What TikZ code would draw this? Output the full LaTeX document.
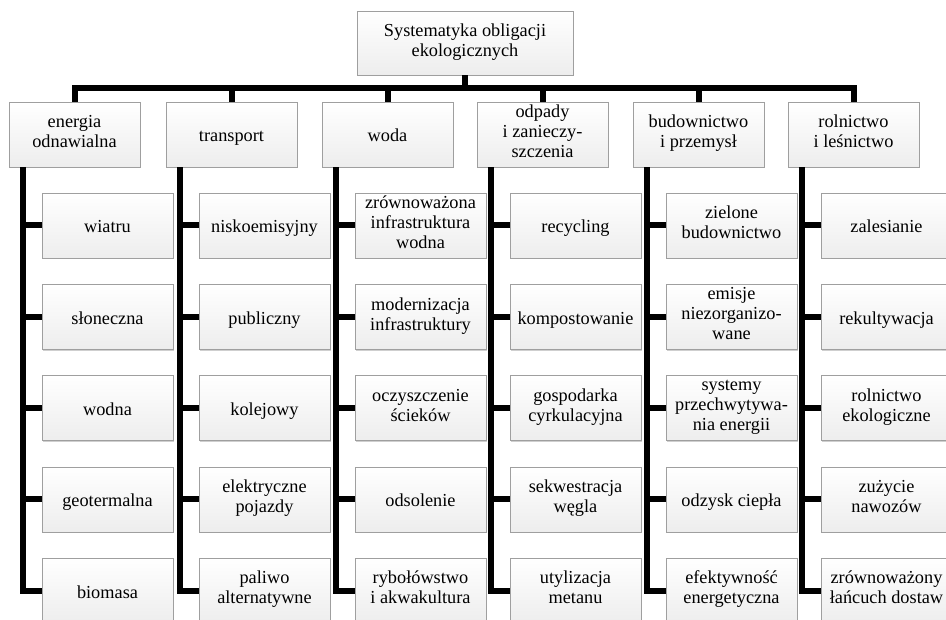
\documentclass[tikz,border=0pt]{standalone}
\usepackage{fontspec}
\setmainfont{Liberation Serif}
\usetikzlibrary{shadows}

\begin{document}
\begin{tikzpicture}
        [x=1pt, y=-1pt, box/.style={draw=gray!75, top color=white, bottom color=gray!14, drop shadow={shadow xshift=1.3pt, shadow yshift=-1.3pt, fill=gray!75}, align=center, inner sep=0, minimum width=131pt, minimum height=65pt, font=\fontsize{18.3}{20}\selectfont, execute at begin node=\rule{0pt}{21pt}, execute at end node=\rule[-6pt]{0pt}{6pt}}, link/.style={line width=6pt, black}]

        \clip (0, 0) rectangle (946, 620);

        \node[box, minimum width=216pt, minimum height=64pt] (root) at (465, 43) {Systematyka obligacji\\ekologicznych};

        \node[box] (c1) at (74.5, 134.5) {energia\\odnawialna};
        \node[box] (c2) at (231.5, 134.5) {transport};
        \node[box] (c3) at (387.5, 134.5) {woda};
        \node[box] (c4) at (542.5, 134.5) {odpady\\i zanieczy-\\szczenia};
        \node[box] (c5) at (698.5, 134.5) {budownictwo\\i przemysł};
        \node[box] (c6) at (853.5, 134.5) {rolnictwo\\i leśnictwo};

        \node[box] (c1r1) at (107.5, 225.5) {wiatru};
        \node[box] (c1r2) at (107.5, 316.75) {słoneczna};
        \node[box] (c1r3) at (107.5, 408) {wodna};
        \node[box] (c1r4) at (107.5, 499.25) {geotermalna};
        \node[box] (c1r5) at (107.5, 590.5) {biomasa};

        \node[box] (c2r1) at (264.5, 225.5) {niskoemisyjny};
        \node[box] (c2r2) at (264.5, 316.75) {publiczny};
        \node[box] (c2r3) at (264.5, 408) {kolejowy};
        \node[box] (c2r4) at (264.5, 499.25) {elektryczne\\pojazdy};
        \node[box] (c2r5) at (264.5, 590.5) {paliwo\\alternatywne};

        \node[box] (c3r1) at (420.5, 225.5) {zrównoważona\\infrastruktura\\wodna};
        \node[box] (c3r2) at (420.5, 316.75) {modernizacja\\infrastruktury};
        \node[box] (c3r3) at (420.5, 408) {oczyszczenie\\ścieków};
        \node[box] (c3r4) at (420.5, 499.25) {odsolenie};
        \node[box] (c3r5) at (420.5, 590.5) {rybołówstwo\\i akwakultura};

        \node[box] (c4r1) at (575.5, 225.5) {recycling};
        \node[box] (c4r2) at (575.5, 316.75) {kompostowanie};
        \node[box] (c4r3) at (575.5, 408) {gospodarka\\cyrkulacyjna};
        \node[box] (c4r4) at (575.5, 499.25) {sekwestracja\\węgla};
        \node[box] (c4r5) at (575.5, 590.5) {utylizacja\\metanu};

        \node[box] (c5r1) at (731.5, 225.5) {zielone\\budownictwo};
        \node[box] (c5r2) at (731.5, 316.75) {emisje\\niezorganizo-\\wane};
        \node[box] (c5r3) at (731.5, 408) {systemy\\przechwytywa-\\nia energii};
        \node[box] (c5r4) at (731.5, 499.25) {odzysk ciepła};
        \node[box] (c5r5) at (731.5, 590.5) {efektywność\\energetyczna};

        \node[box] (c6r1) at (886.5, 225.5) {zalesianie};
        \node[box] (c6r2) at (886.5, 316.75) {rekultywacja};
        \node[box] (c6r3) at (886.5, 408) {rolnictwo\\ekologiczne};
        \node[box] (c6r4) at (886.5, 499.25) {zużycie\\nawozów};
        \node[box] (c6r5) at (886.5, 590.5) {zrównoważony\\łańcuch dostaw};

        \draw[link] (root.south) -- ++(0, 13) -| (c1.north);
        \draw[link] (root.south) -- ++(0, 13) -| (c2.north);
        \draw[link] (root.south) -- ++(0, 13) -| (c3.north);
        \draw[link] (root.south) -- ++(0, 13) -| (c4.north);
        \draw[link] (root.south) -- ++(0, 13) -| (c5.north);
        \draw[link] (root.south) -- ++(0, 13) -| (c6.north);

        \draw[link] ([xshift=14pt]c1.south west) |- (c1r1.west);
        \draw[link] ([xshift=14pt]c1.south west) |- (c1r2.west);
        \draw[link] ([xshift=14pt]c1.south west) |- (c1r3.west);
        \draw[link] ([xshift=14pt]c1.south west) |- (c1r4.west);
        \draw[link] ([xshift=14pt]c1.south west) |- (c1r5.west);

        \draw[link] ([xshift=14pt]c2.south west) |- (c2r1.west);
        \draw[link] ([xshift=14pt]c2.south west) |- (c2r2.west);
        \draw[link] ([xshift=14pt]c2.south west) |- (c2r3.west);
        \draw[link] ([xshift=14pt]c2.south west) |- (c2r4.west);
        \draw[link] ([xshift=14pt]c2.south west) |- (c2r5.west);

        \draw[link] ([xshift=14pt]c3.south west) |- (c3r1.west);
        \draw[link] ([xshift=14pt]c3.south west) |- (c3r2.west);
        \draw[link] ([xshift=14pt]c3.south west) |- (c3r3.west);
        \draw[link] ([xshift=14pt]c3.south west) |- (c3r4.west);
        \draw[link] ([xshift=14pt]c3.south west) |- (c3r5.west);

        \draw[link] ([xshift=14pt]c4.south west) |- (c4r1.west);
        \draw[link] ([xshift=14pt]c4.south west) |- (c4r2.west);
        \draw[link] ([xshift=14pt]c4.south west) |- (c4r3.west);
        \draw[link] ([xshift=14pt]c4.south west) |- (c4r4.west);
        \draw[link] ([xshift=14pt]c4.south west) |- (c4r5.west);

        \draw[link] ([xshift=14pt]c5.south west) |- (c5r1.west);
        \draw[link] ([xshift=14pt]c5.south west) |- (c5r2.west);
        \draw[link] ([xshift=14pt]c5.south west) |- (c5r3.west);
        \draw[link] ([xshift=14pt]c5.south west) |- (c5r4.west);
        \draw[link] ([xshift=14pt]c5.south west) |- (c5r5.west);

        \draw[link] ([xshift=14pt]c6.south west) |- (c6r1.west);
        \draw[link] ([xshift=14pt]c6.south west) |- (c6r2.west);
        \draw[link] ([xshift=14pt]c6.south west) |- (c6r3.west);
        \draw[link] ([xshift=14pt]c6.south west) |- (c6r4.west);
        \draw[link] ([xshift=14pt]c6.south west) |- (c6r5.west);
      \end{tikzpicture}
\end{document}
